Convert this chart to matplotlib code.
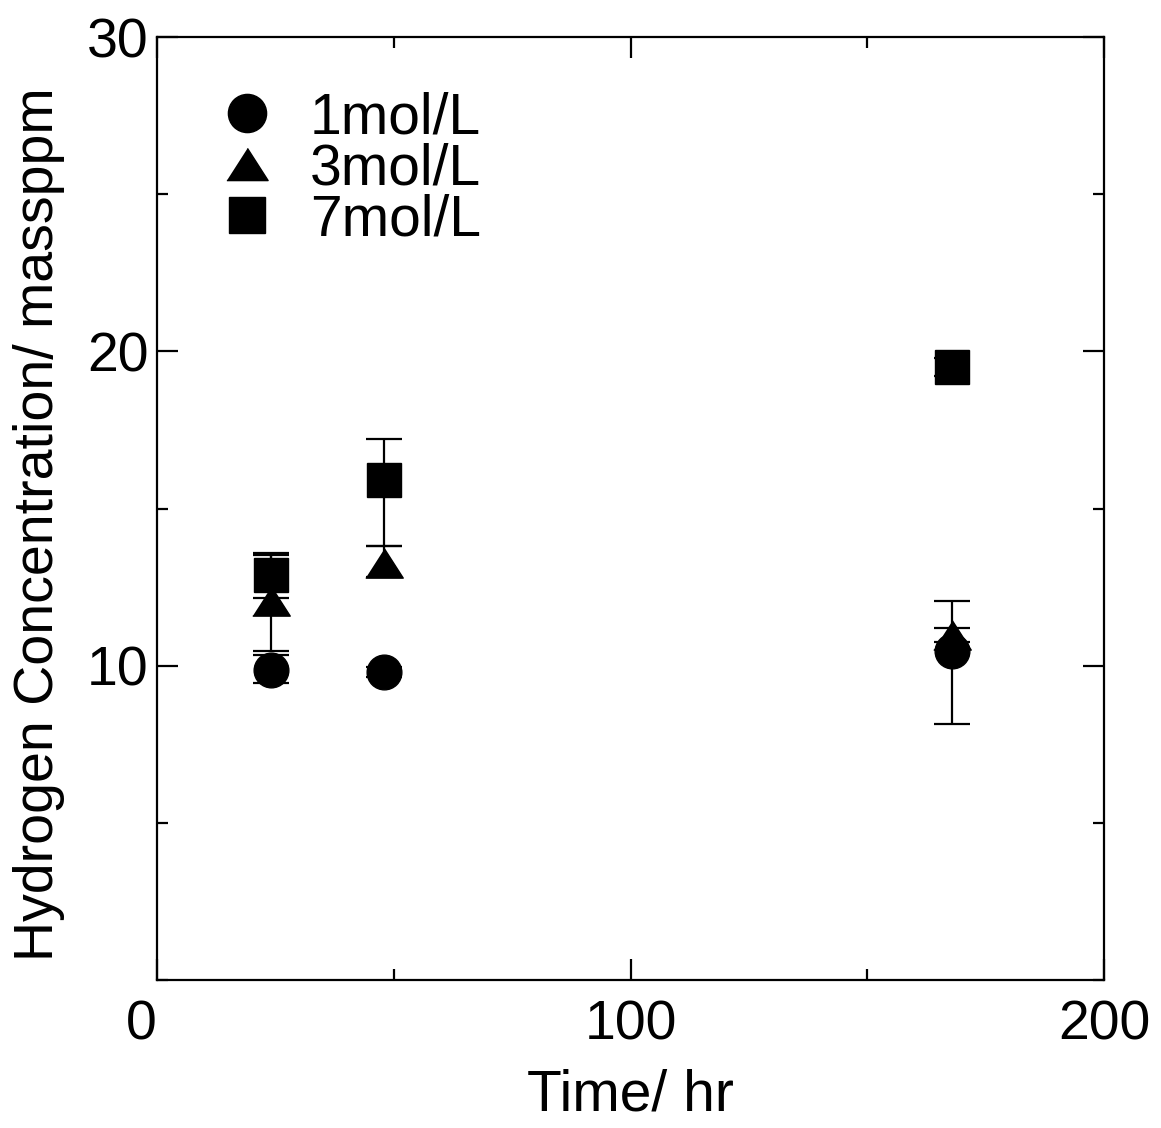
import matplotlib
matplotlib.use("Agg")
import matplotlib.pyplot as plt
from matplotlib.ticker import MultipleLocator

plt.rcParams['font.family'] = ['Liberation Sans', 'DejaVu Sans']

# data
time = [24, 48, 168]

c1 = [9.87, 9.80, 10.48]
c1_lo = [0.42, 0.15, 2.32]
c1_hi = [0.48, 0.15, 1.58]

c3 = [12.06, 13.27, 10.98]
c3_lo = [1.58, 0.45, 0.22]
c3_hi = [1.46, 0.53, 0.22]

c7 = [12.90, 15.90, 19.50]
c7_lo = [0.74, 2.10, 0.30]
c7_hi = [0.69, 1.30, 0.30]

labels = ['1mol/L', '3mol/L', '7mol/L']
xticks = [0, 100, 200]
yticks = [10, 20, 30]

fig = plt.figure(figsize=(11.61, 11.28), dpi=100)
ax = fig.add_axes([157 / 1161, 1 - 980 / 1128, (1104 - 157) / 1161, (980 - 37) / 1128])

tri = [(-1, -0.78), (1, -0.78), (0, 0.78)]
ebkw = dict(linestyle='none', color='black', ecolor='black', elinewidth=1.6,
            capsize=13, capthick=1.6)

e1 = ax.errorbar(time, c1, yerr=[c1_lo, c1_hi], marker='o', markersize=25,
                 zorder=3, **ebkw)
e3 = ax.errorbar(time, c3, yerr=[c3_lo, c3_hi], marker=tri, markersize=27,
                 zorder=4, **ebkw)
e7 = ax.errorbar(time, c7, yerr=[c7_lo, c7_hi], marker='s', markersize=24,
                 zorder=5, **ebkw)

ax.set_xlim(0, 200)
ax.set_ylim(0, 30)
ax.set_xticks(xticks)
ax.xaxis.set_minor_locator(MultipleLocator(50))
ax.set_yticks(yticks)
ax.yaxis.set_minor_locator(MultipleLocator(5))

ax.tick_params(which='both', direction='in', top=True, right=True, width=1.6)
ax.tick_params(which='major', length=15, labelsize=40)
ax.tick_params(which='minor', length=8)
ax.tick_params(axis='x', pad=14)
ax.tick_params(axis='y', pad=6)
for s in ax.spines.values():
    s.set_linewidth(1.6)

ax.set_xlabel('Time/ hr', fontsize=41, labelpad=12)
ax.set_ylabel('Hydrogen Concentration/ massppm', fontsize=40)
ax.yaxis.set_label_coords(-0.097, 0.483)

# legend shows markers only
ax.legend([e1[0], e3[0], e7[0]], labels, loc='upper left',
          bbox_to_anchor=(0.005, 0.997), frameon=False, fontsize=41,
          handletextpad=0.5, labelspacing=-0.05, handlelength=1.2,
          numpoints=1, markerscale=1.1)

# the "0" sits left of the corner in the original
ax.get_xticklabels()[0].set_horizontalalignment('right')

fig.savefig('out.png', dpi=100)
